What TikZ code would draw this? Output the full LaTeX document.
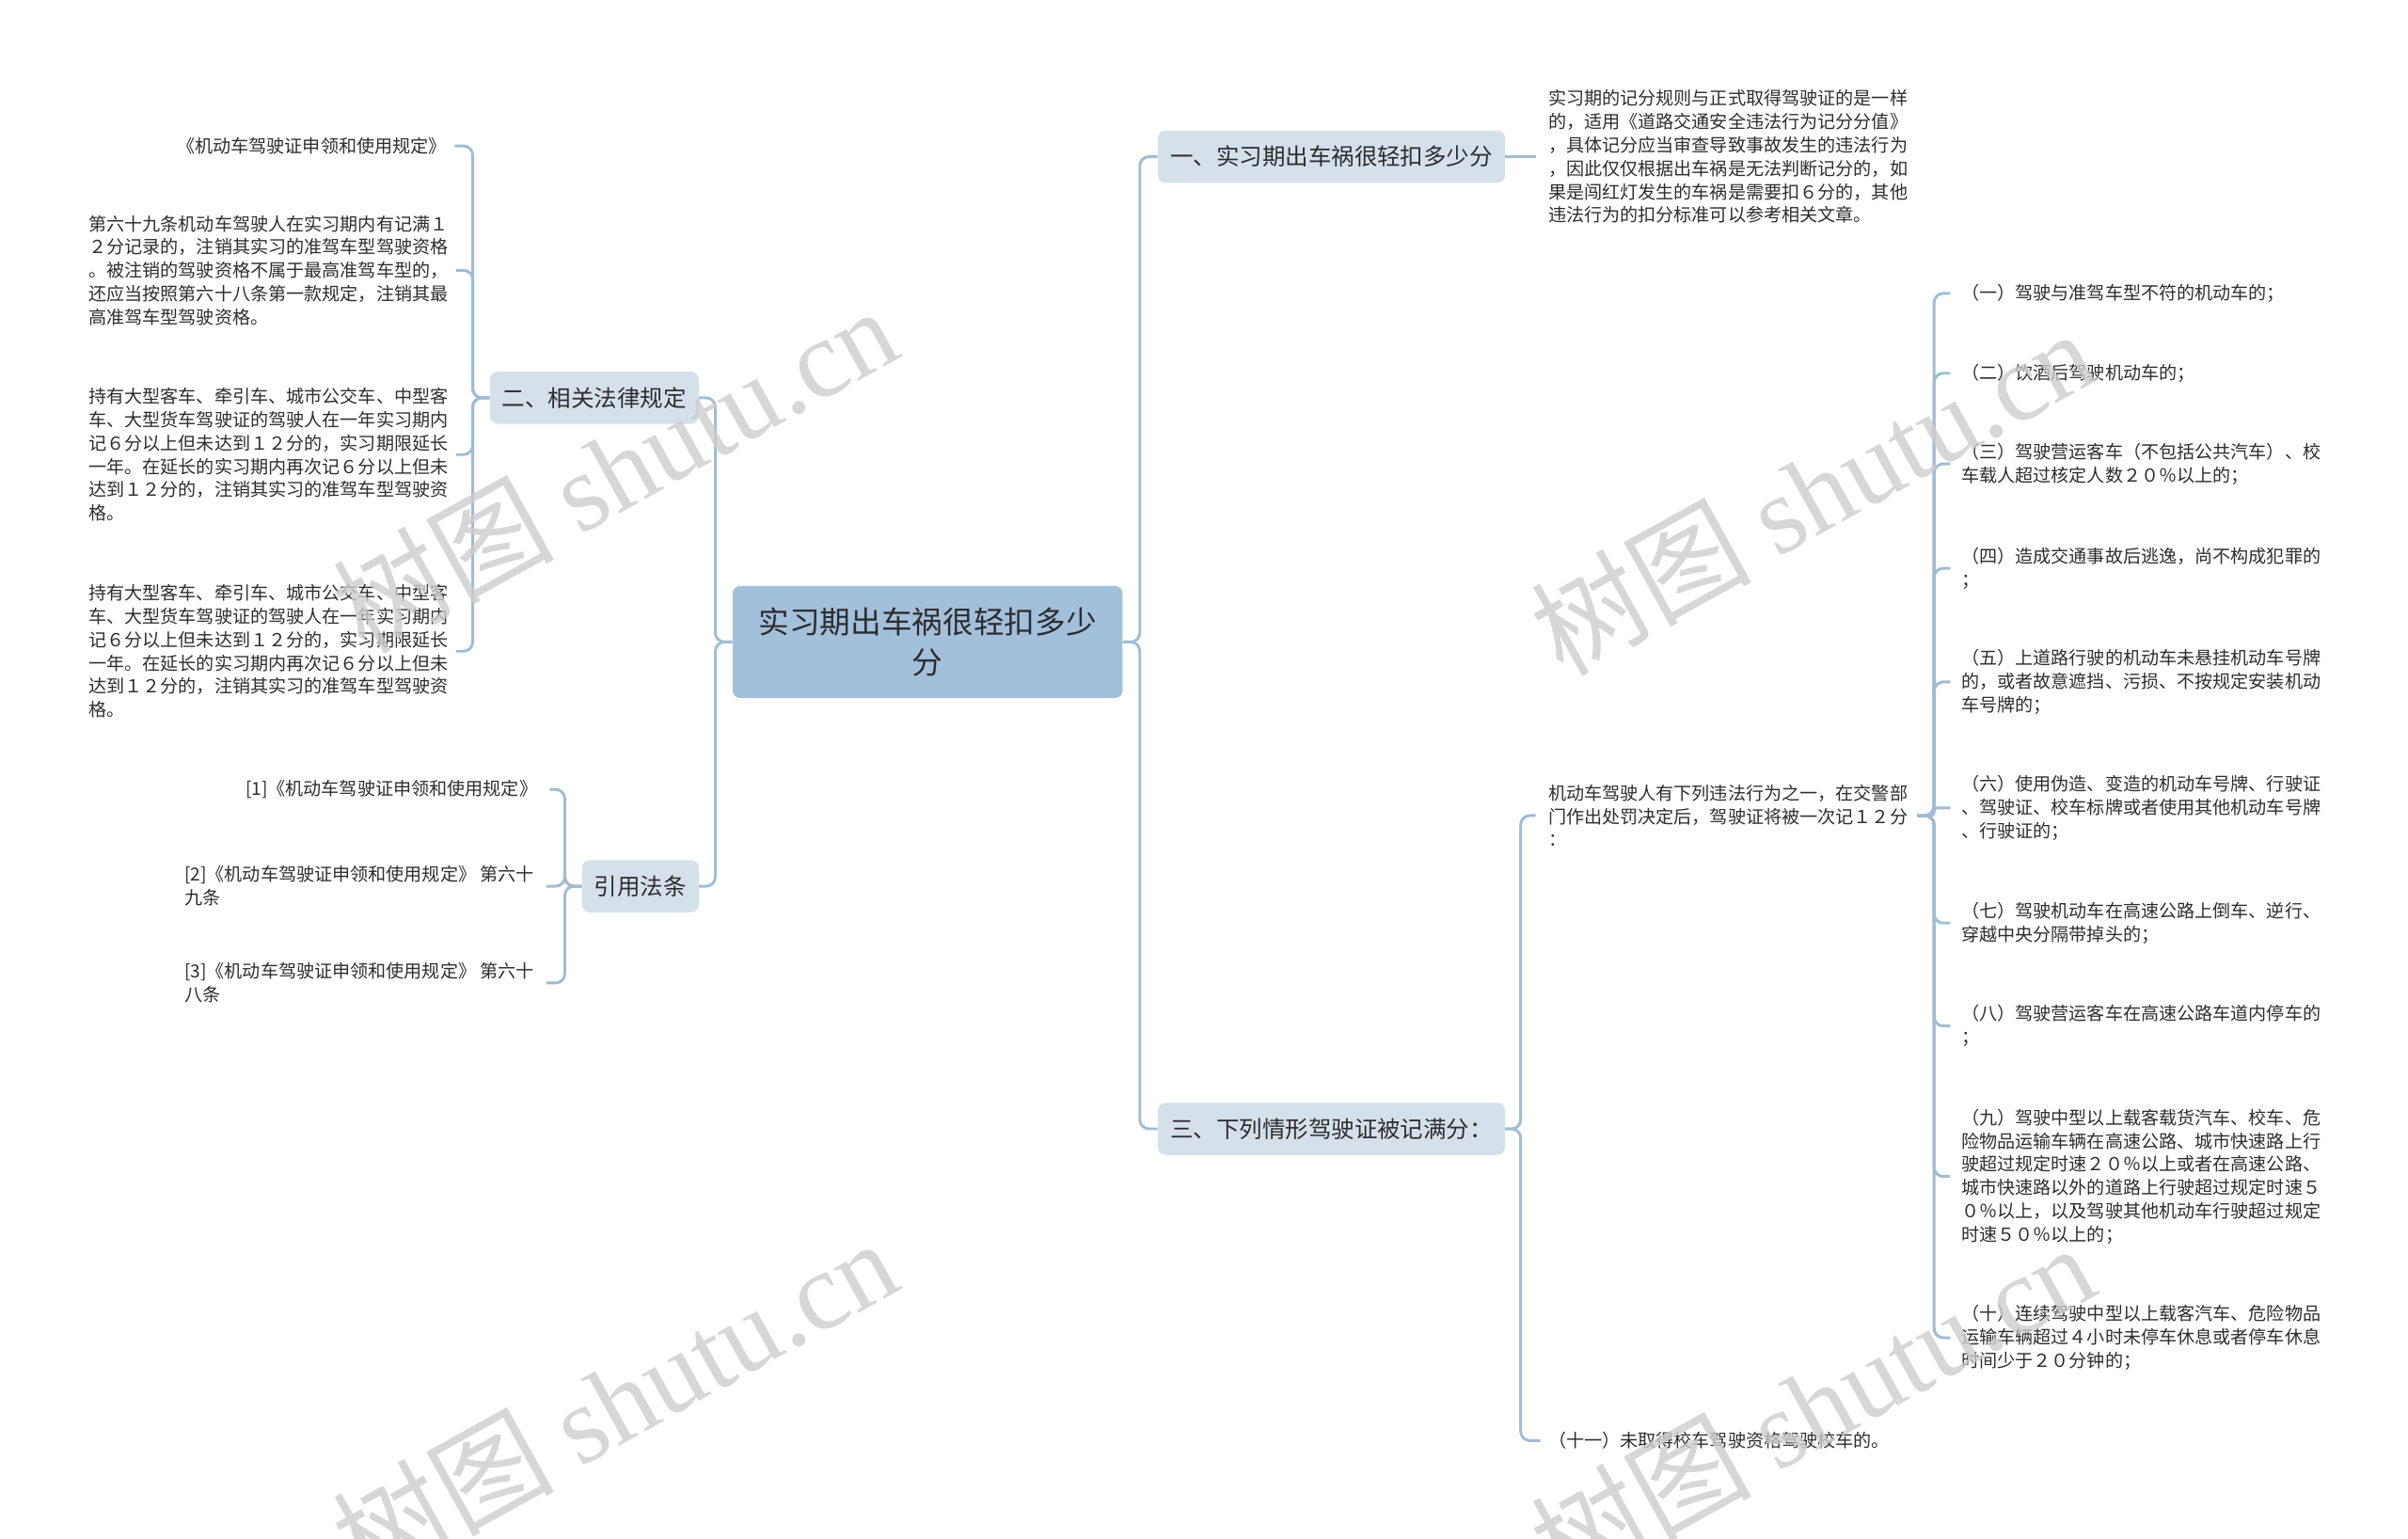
\documentclass[tikz,border=0pt]{standalone}
\usepackage{fontspec}
\setmainfont{Noto Sans CJK SC}
\newfontfamily\wmserif{Liberation Serif}
\usetikzlibrary{positioning}
\definecolor{rootfill}{RGB}{163,192,219}
\definecolor{topicfill}{RGB}{213,225,234}
\definecolor{linkc}{RGB}{160,188,213}
\definecolor{txt}{RGB}{45,45,45}
\definecolor{wmgray}{RGB}{205,205,205}
\tikzset{
  rootbox/.style={fill=rootfill,rounded corners=5pt,align=center,text=txt,font=\fontsize{20}{26}\selectfont,minimum width=254pt,minimum height=73pt},
  topic/.style={fill=topicfill,rounded corners=5pt,text=txt,font=\fontsize{15}{18}\selectfont,minimum height=34pt,inner xsep=8pt,inner ysep=0pt},
  leaf/.style={align=left,text=txt,font=\fontsize{11.7}{15.2}\selectfont,inner sep=0pt},
  link/.style={draw=linkc,line width=1.8pt,rounded corners=6pt}
}

\begin{document}
\begin{tikzpicture}[x=1pt,y=-1pt,
 wm/.style={text=wmgray,opacity=0.8,font=\fontsize{72}{72}\selectfont,inner sep=0pt,rotate=29}]
\fill[white] (0,0) rectangle (1568,1002);
\useasboundingbox (0,0) rectangle (1568,1002);
% main topic and branches
\node[rootbox] (root) at (604,418) {实习期出车祸很轻扣多少\\分};
\node[topic] (one) at (867,102) {一、实习期出车祸很轻扣多少分};
\node[topic] (three) at (867,735) {三、下列情形驾驶证被记满分：};
\node[topic] (law) at (387,259) {二、相关法律规定};
\node[topic] (cite) at (417,577) {引用法条};
% left leaves
\node[leaf,anchor=east] (lawA) at (291,95) {《机动车驾驶证申领和使用规定》};
\node[leaf,anchor=east] (lawB) at (292,176) {第六十九条机动车驾驶人在实习期内有记满１\\２分记录的，注销其实习的准驾车型驾驶资格\\。被注销的驾驶资格不属于最高准驾车型的，\\还应当按照第六十八条第一款规定，注销其最\\高准驾车型驾驶资格。};
\node[leaf,anchor=east] (lawC) at (292,296) {持有大型客车、牵引车、城市公交车、中型客\\车、大型货车驾驶证的驾驶人在一年实习期内\\记６分以上但未达到１２分的，实习期限延长\\一年。在延长的实习期内再次记６分以上但未\\达到１２分的，注销其实习的准驾车型驾驶资\\格。};
\node[leaf,anchor=east] (lawD) at (292,424) {持有大型客车、牵引车、城市公交车、中型客\\车、大型货车驾驶证的驾驶人在一年实习期内\\记６分以上但未达到１２分的，实习期限延长\\一年。在延长的实习期内再次记６分以上但未\\达到１２分的，注销其实习的准驾车型驾驶资\\格。};
\node[leaf,anchor=east] (citeA) at (350,514) {[1]《机动车驾驶证申领和使用规定》};
\node[leaf,anchor=east] (citeB) at (348,577) {[2]《机动车驾驶证申领和使用规定》 第六十\\九条};
\node[leaf,anchor=east] (citeC) at (348,640) {[3]《机动车驾驶证申领和使用规定》 第六十\\八条};
% right leaves
\node[leaf,anchor=west] (oneA) at (1008,102) {实习期的记分规则与正式取得驾驶证的是一样\\的，适用《道路交通安全违法行为记分分值》\\，具体记分应当审查导致事故发生的违法行为\\，因此仅仅根据出车祸是无法判断记分的，如\\果是闯红灯发生的车祸是需要扣６分的，其他\\违法行为的扣分标准可以参考相关文章。};
\node[leaf,anchor=west] (rule) at (1008,531) {机动车驾驶人有下列违法行为之一，在交警部\\门作出处罚决定后，驾驶证将被一次记１２分\\：};
\node[leaf,anchor=west] (last) at (1008,938) {（十一）未取得校车驾驶资格驾驶校车的。};
\node[leaf,anchor=west] (r1) at (1277,191) {（一）驾驶与准驾车型不符的机动车的；};
\node[leaf,anchor=west] (r2) at (1277,243) {（二）饮酒后驾驶机动车的；};
\node[leaf,anchor=west] (r3) at (1277,302) {（三）驾驶营运客车（不包括公共汽车）、校\\车载人超过核定人数２０％以上的；};
\node[leaf,anchor=west] (r4) at (1277,370) {（四）造成交通事故后逃逸，尚不构成犯罪的\\；};
\node[leaf,anchor=west] (r5) at (1277,444) {（五）上道路行驶的机动车未悬挂机动车号牌\\的，或者故意遮挡、污损、不按规定安装机动\\车号牌的；};
\node[leaf,anchor=west] (r6) at (1277,526) {（六）使用伪造、变造的机动车号牌、行驶证\\、驾驶证、校车标牌或者使用其他机动车号牌\\、行驶证的；};
\node[leaf,anchor=west] (r7) at (1277,601) {（七）驾驶机动车在高速公路上倒车、逆行、\\穿越中央分隔带掉头的；};
\node[leaf,anchor=west] (r8) at (1277,668) {（八）驾驶营运客车在高速公路车道内停车的\\；};
\node[leaf,anchor=west] (r9) at (1277,766) {（九）驾驶中型以上载客载货汽车、校车、危\\险物品运输车辆在高速公路、城市快速路上行\\驶超过规定时速２０％以上或者在高速公路、\\城市快速路以外的道路上行驶超过规定时速５\\０％以上，以及驾驶其他机动车行驶超过规定\\时速５０％以上的；};
\node[leaf,anchor=west] (r10) at (1277,871) {（十）连续驾驶中型以上载客汽车、危险物品\\运输车辆超过４小时未停车休息或者停车休息\\时间少于２０分钟的；};
% connectors
\foreach \t in {one,three} \draw[link] (root.east) -- ++(11,0) |- (\t.west);
\foreach \t in {law,cite} \draw[link] (root.west) -- ++(-11,0) |- (\t.east);
\foreach \l in {lawA,lawB,lawC,lawD} \draw[link] (law.west) -- ++(-11,0) |- ([xshift=5pt]\l.east);
\foreach \l in {citeA,citeB,citeC} \draw[link] (cite.west) -- ++(-11,0) |- ([xshift=8pt]\l.east);
\draw[link] (one.east) -- ([xshift=-8pt]oneA.west);
\draw[link] (three.east) -- ++(10,0) |- ([xshift=-8pt]rule.west);
\draw[link] (three.east) -- ++(10,0) |- ([xshift=-5pt]last.west);
\foreach \r in {r1,r2,r3,r4,r5,r7,r8,r9,r10} \draw[link] ([xshift=6pt]rule.east) -- ++(11,0) |- ([xshift=-7pt]\r.west);
\draw[link,rounded corners=2pt] ([xshift=6pt]rule.east) -- ++(11,0) |- ([xshift=-7pt]r6.west);
% watermarks
\node[wm] (wm1) at (400,305) {树图 {\wmserif shutu.cn}};
\node[wm] (wm2) at (400,912) {树图 {\wmserif shutu.cn}};
\node[wm] (wm3) at (1180,320) {树图 {\wmserif shutu.cn}};
\node[wm] (wm4) at (1180,915) {树图 {\wmserif shutu.cn}};
\end{tikzpicture}
\end{document}
